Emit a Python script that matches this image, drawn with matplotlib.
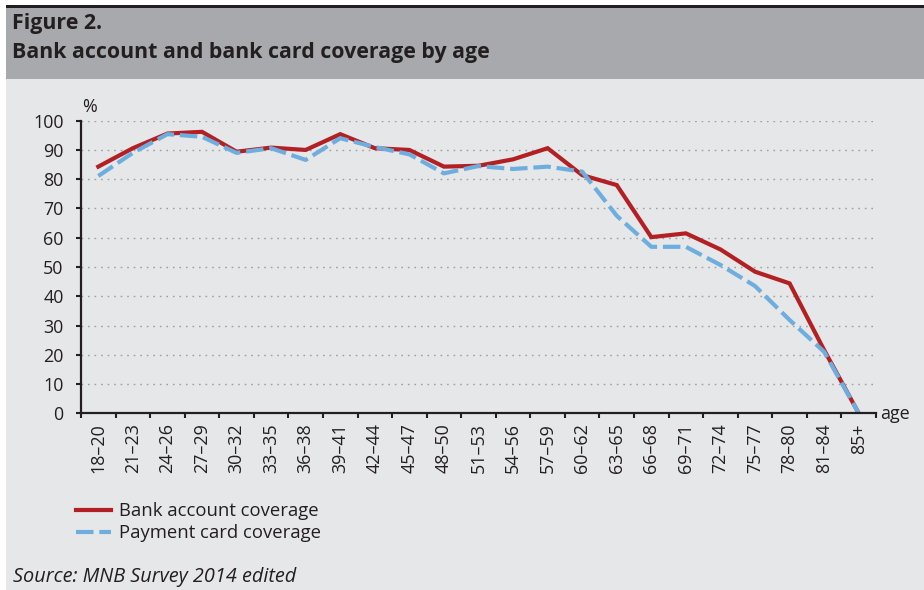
import matplotlib
matplotlib.use("Agg")
import matplotlib.pyplot as plt
from matplotlib.patches import Rectangle
from matplotlib.lines import Line2D

categories = ["18–20", "21–23", "24–26", "27–29", "30–32", "33–35", "36–38", "39–41",
              "42–44", "45–47", "48–50", "51–53", "54–56", "57–59", "60–62", "63–65",
              "66–68", "69–71", "72–74", "75–77", "78–80", "81–84", "85+"]
bank_account = [84.3, 90.6, 95.6, 96.2, 89.4, 90.8, 90.0, 95.4, 90.6, 90.0, 84.3, 84.6,
                86.8, 90.6, 81.4, 78.0, 60.2, 61.5, 56.0, 48.4, 44.4, 21.6, 0.0]
payment_card = [81.1, 89.0, 95.4, 94.5, 89.0, 90.6, 86.6, 94.0, 91.0, 88.5, 82.0, 84.5,
                83.5, 84.3, 82.6, 67.5, 56.9, 56.9, 50.7, 43.5, 31.9, 21.0, 0.0]
yticks = [0, 10, 20, 30, 40, 50, 60, 70, 80, 90, 100]

FONT = "Open Sans"
RED = "#b22024"
BLUE = "#6eaedf"
BG = "#e6e7e8"
BAND = "#a7a9ac"
INK = "#231f20"
FS = 12.9

fig = plt.figure(figsize=(9.24, 5.90), dpi=100)
fig.patch.set_facecolor("white")
W, H = 924, 590
def fx(px): return px / W
def fy(py): return 1 - py / H

fig.add_artist(Rectangle((fx(6), 0), 1 - fx(6), fy(79), transform=fig.transFigure,
                         facecolor=BG, edgecolor="none", zorder=-10))
fig.add_artist(Rectangle((fx(6), fy(79)), 1 - fx(6), fy(7.5) - fy(79), transform=fig.transFigure,
                         facecolor=BAND, edgecolor="none", zorder=-10))
fig.add_artist(Rectangle((fx(6), fy(7.5)), 1 - fx(6), fy(4.5) - fy(7.5), transform=fig.transFigure,
                         facecolor=INK, edgecolor="none", zorder=-10))

fig.text(fx(12), fy(29.5), "Figure 2.", fontfamily=FONT, fontweight="bold", fontsize=15.4,
         color=INK, va="baseline", ha="left")
fig.text(fx(12), fy(58), "Bank account and bank card coverage by age", fontfamily=FONT,
         fontweight="bold", fontsize=15.4, color=INK, va="baseline", ha="left")

ax = fig.add_axes([fx(81), fy(413.3), fx(876) - fx(81), fy(120.7) - fy(413.3)])
ax.set_facecolor("none")
x = list(range(len(categories)))
ax.plot(x, bank_account, color=RED, lw=3.0, solid_joinstyle="miter", zorder=3,
        label="Bank account coverage")
ax.plot(x, payment_card, color=BLUE, lw=3.0, dashes=(4.2, 1.4), zorder=4,
        label="Payment card coverage")

ax.set_xlim(-0.5, len(categories) - 0.5)
ax.set_ylim(0, 100)
ax.set_yticks(yticks)
ax.set_yticklabels([str(v) for v in yticks], fontfamily=FONT, fontsize=FS, color=INK)
ax.set_xticks([i - 0.5 for i in range(len(categories) + 1)])
ax.set_xticklabels([])
ax.set_xticks(x, minor=True)
ax.set_xticklabels(categories, minor=True, rotation=90, fontfamily=FONT, fontsize=FS,
                   color=INK)
ax.tick_params(axis="x", which="minor", length=0, pad=7)
ax.tick_params(axis="x", which="major", length=3.6, width=1.5, direction="out", color=INK)
ax.tick_params(axis="y", length=3.6, width=1.5, direction="out", color=INK, pad=9)

for v in yticks[1:]:
    ax.axhline(v, color="#9d9fa2", lw=1.0, ls=(0, (1.2, 3.5)), zorder=1)

for s in ["top", "right"]:
    ax.spines[s].set_visible(False)
for s in ["left", "bottom"]:
    ax.spines[s].set_linewidth(1.6)
    ax.spines[s].set_color(INK)
    ax.spines[s].set_zorder(5)

fig.text(fx(82), fy(112), "%", fontfamily=FONT, fontsize=FS, color=INK,
         ha="left", va="baseline")
fig.text(fx(880), fy(419), "age", fontfamily=FONT, fontsize=FS, color=INK,
         ha="left", va="baseline")

handles = [Line2D([], [], color=RED, lw=3.0),
           Line2D([], [], color=BLUE, lw=3.0, dashes=(4.2, 1.4))]
leg = fig.legend(handles, ["Bank account coverage", "Payment card coverage"],
                 loc="upper left", bbox_to_anchor=(fx(69), fy(495)), frameon=False,
                 prop={"family": FONT, "size": 13.3}, handlelength=1.9, handletextpad=0.4,
                 labelspacing=0.22, borderaxespad=0)
for t in leg.get_texts():
    t.set_color(INK)

fig.text(fx(13), fy(582), "Source: MNB Survey 2014 edited", fontfamily=FONT, fontsize=14.3,
         fontstyle="italic", color=INK, ha="left", va="baseline")

fig.savefig("out.png", dpi=100, facecolor=fig.get_facecolor())
